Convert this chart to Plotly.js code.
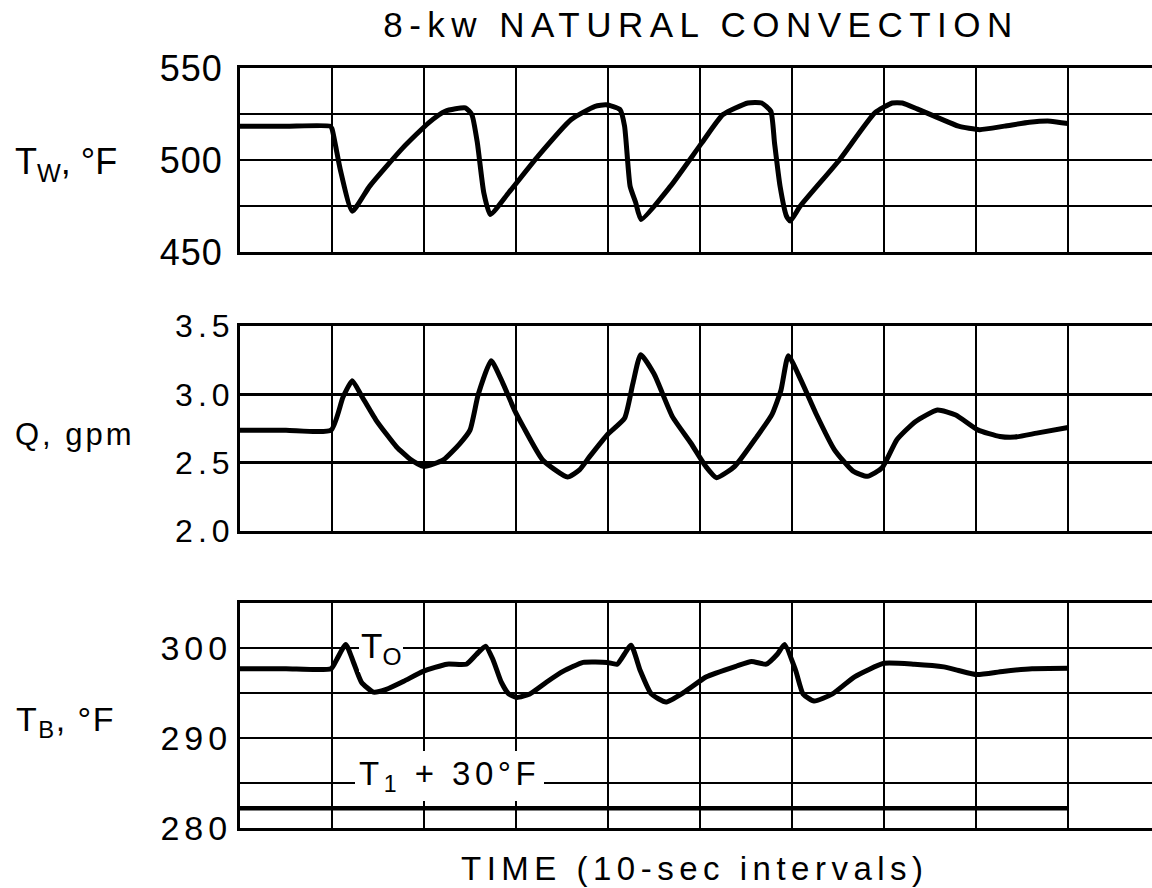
<!DOCTYPE html>
<html>
<head>
<meta charset="utf-8">
<script src="https://cdn.plot.ly/plotly-3.0.1.min.js"></script>
<style>
html,body{margin:0;padding:0;background:#fff;}
#chart{width:1152px;height:888px;}
</style>
</head>
<body>
<div id="chart"></div>
<script>
// ---- data (x in 10-sec intervals) ----
const timeTw = [0, 0.5, 0.98, 1.0, 1.04, 1.09, 1.22, 1.41, 1.77, 2.05, 2.23, 2.45, 2.52, 2.58, 2.65, 2.72, 2.92, 3.24, 3.60, 3.86, 3.98, 4.13, 4.18, 4.24, 4.30, 4.36, 4.68, 5.02, 5.25, 5.52, 5.67, 5.77, 5.81, 5.87, 5.94, 5.98, 6.09, 6.52, 6.90, 7.09, 7.20, 7.36, 7.59, 7.81, 8.04, 8.31, 8.58, 8.81, 9.0];
const tw = [518.4, 518.4, 518.4, 517, 507.5, 494.8, 472.2, 485.8, 506.6, 520.2, 526.5, 528.3, 524.7, 509.3, 482.2, 470.4, 482.2, 502.1, 522, 529.2, 530, 527.4, 518.4, 485.8, 477, 467.7, 485.8, 509.3, 524.7, 531, 531, 526.5, 509.3, 485.8, 469.5, 466.8, 475, 500.3, 525.6, 531, 531, 527.8, 522.9, 518.4, 516.5, 518.4, 520.5, 521.1, 519.8];

const timeQ = [0, 0.5, 0.99, 1.12, 1.22, 1.32, 1.48, 1.70, 1.86, 2.0, 2.21, 2.39, 2.50, 2.59, 2.73, 2.86, 2.985, 3.08, 3.29, 3.56, 3.69, 3.80, 4.0, 4.18, 4.27, 4.355, 4.5, 4.70, 4.90, 5.06, 5.18, 5.38, 5.62, 5.78, 5.88, 5.96, 6.10, 6.26, 6.46, 6.66, 6.82, 6.98, 7.14, 7.34, 7.58, 7.78, 8.02, 8.26, 8.42, 8.66, 9.0];
const q = [2.738, 2.738, 2.738, 2.98, 3.10, 2.99, 2.81, 2.617, 2.52, 2.472, 2.52, 2.64, 2.738, 3.0, 3.246, 3.077, 2.883, 2.762, 2.52, 2.395, 2.447, 2.544, 2.71, 2.825, 3.078, 3.29, 3.15, 2.837, 2.644, 2.475, 2.39, 2.475, 2.692, 2.849, 3.03, 3.283, 3.10, 2.86, 2.596, 2.44, 2.40, 2.463, 2.668, 2.80, 2.885, 2.849, 2.74, 2.692, 2.687, 2.716, 2.757];

const timeTb = [0, 0.5, 0.99, 1.05, 1.15, 1.23, 1.32, 1.45, 1.59, 1.78, 1.99, 2.25, 2.46, 2.57, 2.67, 2.75, 2.84, 2.92, 3.01, 3.15, 3.33, 3.51, 3.73, 3.99, 4.10, 4.25, 4.35, 4.47, 4.63, 4.83, 5.07, 5.40, 5.56, 5.72, 5.84, 5.92, 6.04, 6.12, 6.24, 6.44, 6.68, 7.00, 7.33, 7.65, 7.81, 8.01, 8.29, 8.61, 9.0];
const tb = [297.7, 297.7, 297.7, 298.7, 300.4, 298.5, 296.2, 295.1, 295.4, 296.3, 297.4, 298.2, 298.2, 299.3, 300.2, 298.7, 296.2, 294.9, 294.5, 294.9, 296.2, 297.4, 298.4, 298.4, 298.2, 300.3, 297.5, 294.9, 294.0, 295.1, 296.8, 298.0, 298.5, 298.2, 299.3, 300.4, 297.5, 294.9, 294.1, 294.9, 296.8, 298.3, 298.2, 297.9, 297.5, 297.05, 297.4, 297.7, 297.75];

const timeT1 = [0, 9.0];
const t1Plus30 = [282.2, 282.2];

const twTickVals = [450, 500, 550];
const twTickText = ['450', '500', '550'];
const qTickVals = [2.0, 2.5, 3.0, 3.5];
const qTickText = ['2.0', '2.5', '3.0', '3.5'];
const tbTickVals = [280, 290, 300];
const tbTickText = ['280', '290', '300'];

const titleText = '8-kw NATURAL CONVECTION';
const xTitleText = 'TIME (10-sec intervals)';
const twLabel = 'T<sub>W</sub>, °F';
const qLabel = 'Q, gpm';
const tbLabel = 'T<sub>B</sub>, °F';
const toLabel = 'T<sub>O</sub>';
const t1Label = 'T<sub>1</sub> + 30°F';

// ---- layout helpers ----
const FONT = 'Liberation Sans, Arial, Helvetica, sans-serif';
const XMAX = 9.913;
function spaced(t, px) { return '<span style="letter-spacing:' + px + 'px">' + t + '</span>'; }

function xAxis(anchor) {
  return {
    anchor: anchor, domain: [0, 1], range: [0, XMAX],
    tick0: 0, dtick: 1, showgrid: true, gridcolor: '#000', gridwidth: 2,
    showline: true, linecolor: '#000', linewidth: 3, mirror: true,
    showticklabels: false, ticks: '', zeroline: false, fixedrange: true
  };
}
function yAxis(anchor, domain, range, vals, text, minorStep, size, sp, standoff) {
  const ax = {
    anchor: anchor, domain: domain, range: range,
    tickmode: 'array', tickvals: vals,
    ticktext: text.map(t => spaced(t, sp)),
    tickfont: {family: FONT, size: size, color: '#000'},
    ticklabelstandoff: standoff,
    showgrid: true, gridcolor: '#000', gridwidth: 2.5,
    showline: true, linecolor: '#000', linewidth: 3, mirror: false,
    ticks: '', zeroline: false, fixedrange: true
  };
  if (minorStep) {
    ax.minor = {tick0: range[0], dtick: minorStep, showgrid: true, gridcolor: '#000', gridwidth: 2.5, ticks: ''};
  }
  return ax;
}
const lineStyle = {color: '#000', width: 5, shape: 'spline', smoothing: 0.5};

const traces = [
  {x: timeTw, y: tw, xaxis: 'x', yaxis: 'y', mode: 'lines', line: lineStyle, hoverinfo: 'skip'},
  {x: timeQ, y: q, xaxis: 'x2', yaxis: 'y2', mode: 'lines', line: lineStyle, hoverinfo: 'skip'},
  {x: timeTb, y: tb, xaxis: 'x3', yaxis: 'y3', mode: 'lines', line: lineStyle, hoverinfo: 'skip'},
  {x: timeT1, y: t1Plus30, xaxis: 'x3', yaxis: 'y3', mode: 'lines', line: {color: '#000', width: 4.5}, hoverinfo: 'skip'}
];

function py(px) { return (888 - px) / 888; }
function px2x(px) { return (px - 240) / 912; }

const layout = {
  width: 1152, height: 888,
  margin: {l: 240, r: 0, t: 0, b: 0, pad: 0},
  paper_bgcolor: '#fff', plot_bgcolor: '#fff',
  showlegend: false,
  font: {family: FONT, color: '#000'},
  title: {
    text: spaced(titleText, 6.5),
    font: {family: FONT, size: 35, color: '#000'},
    xref: 'paper', x: px2x(701), xanchor: 'center',
    yref: 'container', y: py(25), yanchor: 'middle'
  },
  xaxis: xAxis('y'),
  xaxis2: xAxis('y2'),
  xaxis3: xAxis('y3'),
  yaxis: yAxis('x', [py(252), py(68)], [450, 550], twTickVals, twTickText, 25, 36, 1, 7),
  yaxis2: yAxis('x2', [py(531), py(326)], [2.0, 3.5], qTickVals, qTickText, 0, 32, 5, -4),
  yaxis3: yAxis('x3', [py(828), py(603)], [280, 305], tbTickVals, tbTickText, 5, 34, 5, -2),
  annotations: [
    {text: twLabel, xref: 'paper', yref: 'paper', x: px2x(13), y: py(164), xanchor: 'left', yanchor: 'middle',
     showarrow: false, font: {family: FONT, size: 36, color: '#000'}},
    {text: spaced(qLabel, 3), xref: 'paper', yref: 'paper', x: px2x(13), y: py(434), xanchor: 'left', yanchor: 'middle',
     showarrow: false, font: {family: FONT, size: 31, color: '#000'}},
    {text: spaced(tbLabel, 1.5), xref: 'paper', yref: 'paper', x: px2x(14), y: py(721), xanchor: 'left', yanchor: 'middle',
     showarrow: false, font: {family: FONT, size: 34, color: '#000'}},
    {text: toLabel, xref: 'x3', yref: 'y3', x: (359 - 240) / 92, y: 300.0, xanchor: 'left', yanchor: 'middle',
     showarrow: false, bgcolor: '#fff', borderpad: 2, borderwidth: 0, font: {family: FONT, size: 35, color: '#000'}},
    {text: spaced(t1Label, 4.5), xref: 'x3', yref: 'y3', x: (355 - 240) / 92, y: 285.78, xanchor: 'left', yanchor: 'middle',
     showarrow: false, bgcolor: '#fff', borderpad: 4, borderwidth: 0, font: {family: FONT, size: 33, color: '#000'}},
    {text: spaced(xTitleText, 5.5), xref: 'paper', yref: 'paper', x: px2x(695), y: py(868), xanchor: 'center', yanchor: 'middle',
     showarrow: false, font: {family: FONT, size: 33, color: '#000'}}
  ]
};

Plotly.newPlot('chart', traces, layout, {displayModeBar: false, staticPlot: true});
</script>
</body>
</html>
